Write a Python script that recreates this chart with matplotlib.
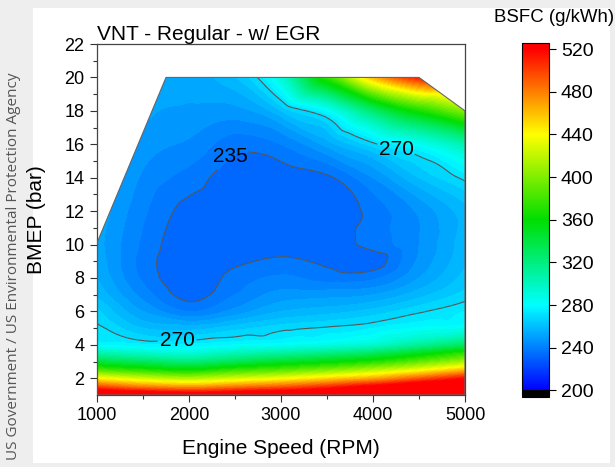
import numpy as np
import matplotlib
matplotlib.use("Agg")
import matplotlib.pyplot as plt
import matplotlib.tri as mtri
from matplotlib.colors import LinearSegmentedColormap, Normalize
from matplotlib.cm import ScalarMappable
from matplotlib.patches import Polygon, Rectangle

plt.rcParams['font.family'] = ['Liberation Sans', 'DejaVu Sans']

# engine map grid
speed_rpm = [1000, 1500, 2000, 2500, 3000, 3500, 4000, 4500, 5000]
bmep_bar = [1, 1.5, 2, 2.5, 3, 3.5, 4, 5, 6, 7, 8, 9, 10, 12, 14, 16, 18, 20]

# BSFC (g/kWh), one list per speed column, bottom to top
bsfc_1000 = [560, 497, 440, 383, 340, 305, 279, 272, 266, 259, 255, 253, 252, 254, 258, 262, 266, 270]
bsfc_1500 = [550, 478, 423, 370, 330, 297, 276, 260, 250, 243, 239, 238, 239, 241, 244, 248, 252, 256]
bsfc_2000 = [540, 470, 413, 360, 322, 292, 276, 258, 240, 233, 231, 231, 231, 233, 238, 244, 249, 252]
bsfc_2500 = [545, 480, 424, 375, 333, 302, 280, 263, 247, 240, 237, 234, 232, 231, 232, 237, 248, 260]
bsfc_3000 = [550, 490, 435, 385, 345, 310, 283, 268, 255, 247, 241, 236, 233, 231, 232, 240, 260, 292]
bsfc_3500 = [560, 505, 450, 398, 355, 319, 288, 271, 258, 248, 238, 234, 233, 231, 234, 252, 280, 372]
bsfc_4000 = [575, 525, 465, 415, 368, 330, 295, 275, 262, 250, 239, 232, 237, 237, 245, 268, 325, 460]
bsfc_4500 = [590, 545, 490, 435, 388, 350, 312, 281, 269, 258, 250, 246, 245, 246, 260, 283, 365, 510]
bsfc_5000 = [600, 560, 515, 460, 410, 372, 330, 285, 275, 267, 262, 259, 258, 258, 272, 305, 400, 520]

# measured operating envelope
boundary_speed = [1000, 1750, 4500, 5000, 5000, 1000]
boundary_bmep = [10.1, 20, 20, 18, 1, 1]

line_levels = [235, 270]
label_pos = [(2410, 15.5), (4220, 15.2), (1870, 4.3)]
cbar_ticks = [200, 240, 280, 320, 360, 400, 440, 480, 520]

Z = np.array([bsfc_1000, bsfc_1500, bsfc_2000, bsfc_2500, bsfc_3000,
              bsfc_3500, bsfc_4000, bsfc_4500, bsfc_5000]).T
X, Y = np.meshgrid(speed_rpm, bmep_bar)

# smooth surface like the original software does (cubic on a refined mesh)
tri = mtri.Triangulation(X.ravel() / 1000.0, Y.ravel())
interp = mtri.CubicTriInterpolator(tri, Z.ravel(), kind='geom')
tri_fine, z_fine = mtri.UniformTriRefiner(tri).refine_field(Z.ravel(), triinterpolator=interp, subdiv=4)
tri_plot = mtri.Triangulation(tri_fine.x * 1000.0, tri_fine.y, tri_fine.triangles)

vmin, vmax = 194, 526
def pos(v):
    return (v - vmin) / (vmax - vmin)
cmap = LinearSegmentedColormap.from_list('origin_rainbow', [
    (0.0, 'black'), (pos(199.9), 'black'), (pos(200), (0, 0, 1)),
    (pos(280), (0, 1, 1)), (pos(360), (0, 0.87, 0)),
    (pos(440), (1, 1, 0)), (pos(480), (1, 0.5, 0)),
    (pos(520), (1, 0, 0)), (1.0, (1, 0, 0))], N=512)
cmap.set_over('red')
cmap.set_under('black')
norm = Normalize(vmin, vmax)

fig = plt.figure(figsize=(6.15, 4.67), dpi=100, facecolor='#eeeeee')
fig.patches.append(Rectangle((33/615, 4/467), 577/615, 455/467, transform=fig.transFigure,
                             facecolor='white', edgecolor='none', zorder=-10))

ax = fig.add_axes([97/615, 72/467, 368/615, 351/467])
ax.set_facecolor('white')
levels = np.arange(200, 530, 5)
cs = ax.tricontourf(tri_plot, z_fine, levels=levels, cmap=cmap, norm=norm, extend='both')
lines = ax.tricontour(tri_plot, z_fine, levels=line_levels, colors='#555555', linewidths=0.8)

env = Polygon(list(zip(boundary_speed, boundary_bmep)), closed=True, facecolor='none',
              edgecolor='#666666', linewidth=0.8, zorder=3)
ax.add_patch(env)
cs.set_clip_path(env)
lines.set_clip_path(env)
labels = ax.clabel(lines, fmt='%d', fontsize=15, manual=label_pos, inline=True,
                   inline_spacing=2, colors='black')
for t in labels:
    t.set_rotation(0)

ax.set_xlim(1000, 5000)
ax.set_ylim(1, 22)
ax.set_xticks(range(1000, 5001, 1000))
ax.set_xticks(range(1500, 5000, 1000), minor=True)
ax.set_yticks(range(2, 23, 2))
ax.set_yticks(range(3, 22, 2), minor=True)
ax.tick_params(which='major', length=5, width=0.8, labelsize=13, pad=4, color='#333333')
ax.tick_params(which='minor', length=3, width=0.8, color='#333333')
for s in ax.spines.values():
    s.set_color('#444444')
    s.set_linewidth(0.9)

ax.set_title('VNT - Regular - w/ EGR', loc='left', fontsize=15, pad=1)
ax.set_xlabel('Engine Speed (RPM)', fontsize=15)
ax.set_ylabel('BMEP (bar)', fontsize=15)
ax.xaxis.label.set_va('center')
ax.xaxis.set_label_coords(0.5, -0.151)
ax.yaxis.set_label_coords(-0.139, 0.5)

cax = fig.add_axes([522/615, 70.3/467, 27/615, 354/467])
cb = fig.colorbar(ScalarMappable(norm=norm, cmap=cmap), cax=cax, ticks=cbar_ticks)
cb.outline.set_linewidth(0.8)
cax.tick_params(labelsize=14, length=5, width=0.8)
cax.minorticks_off()
fig.text(554/615, 1 - 18/467, 'BSFC (g/kWh)', ha='center', va='center', fontsize=13.4)

fig.text(14/615, 1 - 73/467, 'US Government / US Environmental Protection Agency',
         rotation=90, ha='center', va='top', fontsize=11, color='#555555', family='Open Sans')

fig.savefig('out.png', dpi=100, facecolor=fig.get_facecolor())
